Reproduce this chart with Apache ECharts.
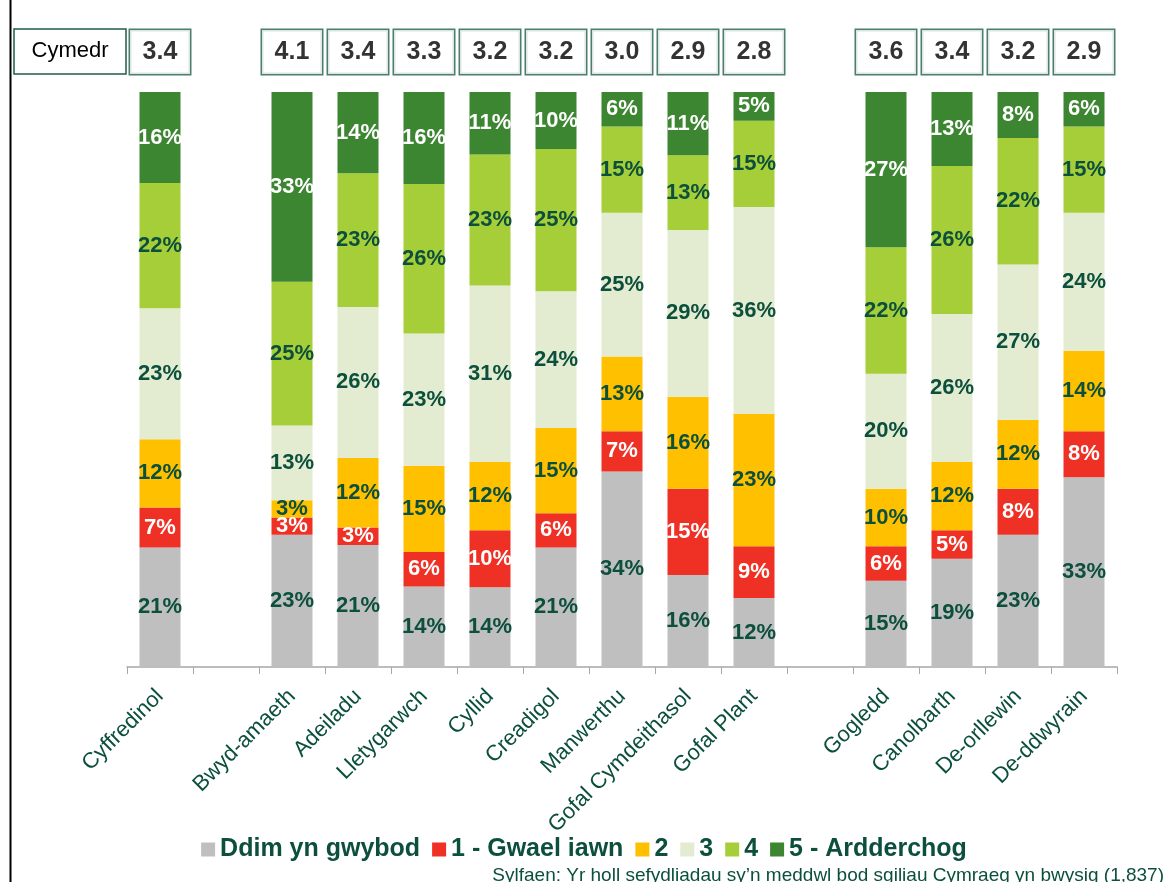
<!DOCTYPE html>
<html>
<head>
<meta charset="utf-8">
<script src="https://cdn.jsdelivr.net/npm/echarts@6/dist/echarts.min.js"></script>
<style>
  html, body { margin: 0; padding: 0; background: #fff; }
  #chart { width: 1168px; height: 882px; }
</style>
</head>
<body>
<div id="chart"></div>
<script>
const chart = echarts.init(document.getElementById("chart"));

// "" entries are the empty gaps between groups
const categories = ["Cyffredinol", "", "Bwyd-amaeth", "Adeiladu", "Lletygarwch", "Cyllid", "Creadigol",
    "Manwerthu", "Gofal Cymdeithasol", "Gofal Plant", "", "Gogledd", "Canolbarth", "De-orllewin", "De-ddwyrain"];

const means = [3.4, null, 4.1, 3.4, 3.3, 3.2, 3.2, 3.0, 2.9, 2.8, null, 3.6, 3.4, 3.2, 2.9];

const dontKnow  = [21, null, 23, 21, 14, 14, 21, 34, 16, 12, null, 15, 19, 23, 33];
const poor      = [7, null, 3, 3, 6, 10, 6, 7, 15, 9, null, 6, 5, 8, 8];
const two       = [12, null, 3, 12, 15, 12, 15, 13, 16, 23, null, 10, 12, 12, 14];
const three     = [23, null, 13, 26, 23, 31, 24, 25, 29, 36, null, 20, 26, 27, 24];
const four      = [22, null, 25, 23, 26, 23, 25, 15, 13, 15, null, 22, 26, 22, 15];
const excellent = [16, null, 33, 14, 16, 11, 10, 6, 11, 5, null, 27, 13, 8, 6];

const seriesNames = ["Ddim yn gwybod", "1 - Gwael iawn", "2", "3", "4", "5 - Ardderchog"];
const seriesData = [dontKnow, poor, two, three, four, excellent];
const colors = ["#BFBFBF", "#EE3124", "#FFC000", "#E3ECD1", "#A6CE39", "#3C8531"];
const labelColors = ["#0B4F3C", "#FFFFFF", "#0B4F3C", "#0B4F3C", "#0B4F3C", "#FFFFFF"];

const darkGreen = "#0B4F3C";
const font = "Liberation Sans, Arial, sans-serif";

// 100% stacked: scale each bar to its own total
const totals = categories.map((c, i) =>
    seriesData.reduce((s, arr) => s + (arr[i] || 0), 0));

const barSeries = seriesData.map((arr, k) => ({
    name: seriesNames[k],
    type: "bar",
    stack: "total",
    barWidth: 41,
    itemStyle: { color: colors[k] },
    label: {
        show: true,
        position: "inside",
        color: labelColors[k],
        fontFamily: font,
        fontWeight: "bold",
        fontSize: 22,
        formatter: function (p) {
            const raw = arr[p.dataIndex];
            return raw == null ? "" : raw + "%";
        }
    },
    data: arr.map((v, i) => v == null ? "-" : v / totals[i] * 100)
}));

const meanSeries = {
    name: "Cymedr",
    type: "scatter",
    xAxisIndex: 1,
    yAxisIndex: 1,
    symbolSize: 0,
    silent: true,
    clip: false,
    label: {
        show: true,
        position: "inside",
        color: "#000",
        fontFamily: font,
        fontWeight: "bold",
        fontSize: 25,
        backgroundColor: "#fff",
        borderColor: "#1F5C4A",
        borderWidth: 1.5,
        width: 60,
        height: 44,
        lineHeight: 44,
        align: "center",
        formatter: function (p) {
            return means[p.dataIndex] == null ? "" : means[p.dataIndex].toFixed(1);
        }
    },
    data: means.map(m => m == null ? "-" : 0.5)
};

const option = {
    animation: false,
    textStyle: { fontFamily: font },
    grid: [
        { left: 127, right: 51, top: 92, bottom: 215 },
        { left: 127, right: 51, top: 29, height: 46 }
    ],
    legend: {
        data: seriesNames,
        bottom: 15,
        left: "center",
        itemWidth: 14,
        itemHeight: 14,
        itemGap: 12,
        icon: "rect",
        textStyle: {
            color: darkGreen,
            fontWeight: "bold",
            fontSize: 25,
            fontFamily: font
        }
    },
    xAxis: [
        {
            type: "category",
            data: categories,
            gridIndex: 0,
            axisLine: { lineStyle: { color: "#A6A6A6", width: 1.5 } },
            axisTick: { show: true, interval: 0, length: 7, lineStyle: { color: "#A6A6A6" } },
            axisLabel: {
                interval: 0,
                rotate: 45,
                color: darkGreen,
                fontSize: 22,
                margin: 26
            }
        },
        {
            type: "category",
            data: categories,
            gridIndex: 1,
            show: false
        }
    ],
    yAxis: [
        { type: "value", min: 0, max: 100, gridIndex: 0, show: false },
        { type: "value", min: 0, max: 1, gridIndex: 1, show: false }
    ],
    graphic: [
        {
            type: "line",
            shape: { x1: 10.5, y1: 0, x2: 10.5, y2: 882 },
            style: { stroke: "#000", lineWidth: 2 }
        },
        {
            type: "rect",
            shape: { x: 14, y: 29, width: 112, height: 45 },
            style: { fill: "#fff", stroke: "#1F5C4A", lineWidth: 1.5 }
        },
        {
            type: "text",
            x: 70,
            y: 51,
            style: {
                text: "Cymedr",
                fill: "#000",
                fontSize: 22,
                fontFamily: font,
                align: "center",
                verticalAlign: "middle"
            }
        },
        {
            type: "text",
            right: 4,
            top: 866,
            style: {
                text: "Sylfaen: Yr holl sefydliadau sy\u2019n meddwl bod sgiliau Cymraeg yn bwysig (1,837)",
                fill: darkGreen,
                fontSize: 19,
                fontFamily: font
            }
        }
    ],
    series: barSeries.concat([meanSeries])
};

chart.setOption(option);
</script>
</body>
</html>
